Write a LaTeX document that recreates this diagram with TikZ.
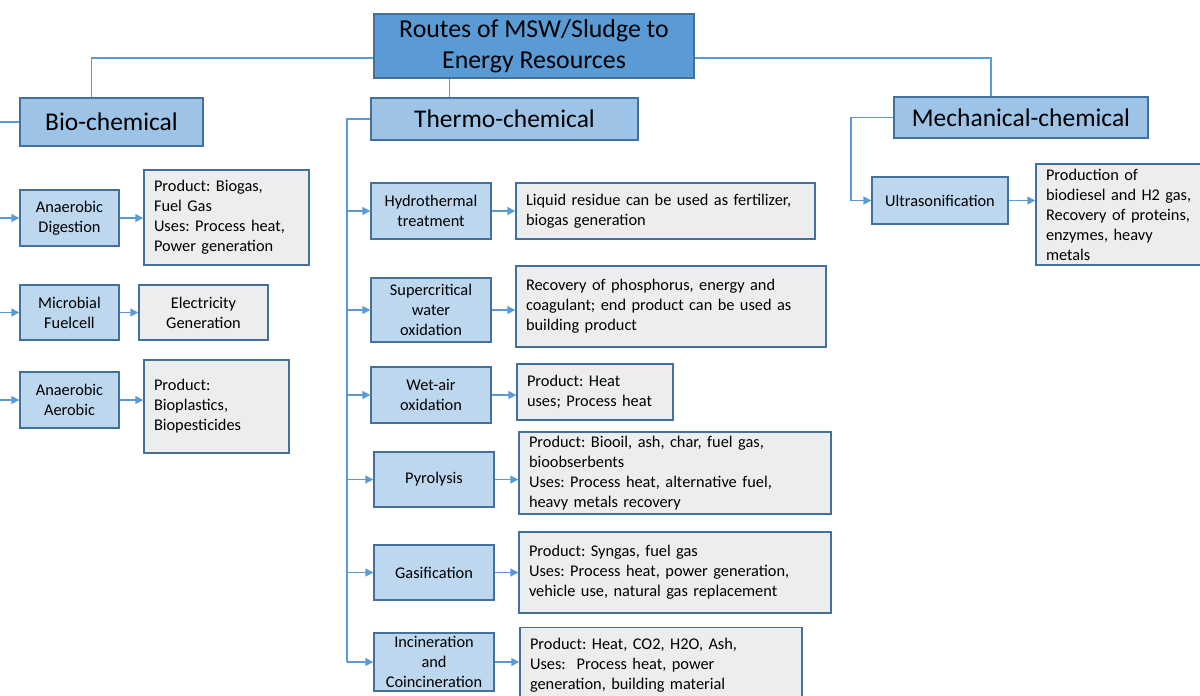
\documentclass[tikz,border=0pt]{standalone}
\usepackage{fontspec}
\setmainfont{Carlito}
\frenchspacing
\usetikzlibrary{arrows.meta}
\definecolor{topblue}{HTML}{5B9BD5}
\definecolor{catblue}{HTML}{9DC3E6}
\definecolor{subblue}{HTML}{BDD7EE}
\definecolor{edgeblue}{HTML}{41719C}
\definecolor{resgray}{HTML}{EDEDED}
\definecolor{linkblue}{HTML}{5B9BD5}
\tikzset{
  head/.style={draw=edgeblue, fill=topblue, line width=0.8pt, align=center,
    inner sep=0pt, font=\fontsize{14.7}{17.6}\selectfont},
  cat/.style={draw=edgeblue, fill=catblue, line width=0.8pt, align=center,
    inner sep=0pt, font=\fontsize{14.5}{17.6}\selectfont},
  route/.style={draw=edgeblue, fill=subblue, line width=0.8pt, align=center,
    inner sep=0pt, font=\fontsize{9.3}{11.4}\selectfont},
  result/.style={draw=edgeblue, fill=resgray, line width=0.8pt, align=left,
    inner sep=0pt, font=\fontsize{9.3}{11.4}\selectfont},
  link/.style={draw=linkblue, line width=0.9pt},
  arr/.style={link, -{Triangle[length=4.5pt,width=4.5pt]}},
}
\begin{document}
\begin{tikzpicture}
  \useasboundingbox (0,0) rectangle (24,-13.9);
  \clip (0,0) rectangle (24,-13.9);
  % main and groups
  \node[head, minimum width=6.4cm, minimum height=1.28cm] (title) at (10.68,-0.92)
    {Routes of MSW/Sludge to\\Energy Resources};
  \node[cat, minimum width=3.66cm, minimum height=0.96cm] (bio) at (2.23,-2.44) {Bio-chemical};
  \node[cat, minimum width=5.34cm, minimum height=0.84cm] (thermo) at (10.09,-2.38) {Thermo-chemical};
  \node[cat, minimum width=5.08cm, minimum height=0.82cm] (mech) at (20.42,-2.35) {Mechanical-chemical};

  % bio-chemical routes
  \node[route, minimum width=1.98cm, minimum height=1.12cm] (ad) at (1.39,-4.36) {Anaerobic\\Digestion};
  \node[result, text width=2.9cm, minimum width=3.3cm, minimum height=1.9cm] (adres) at (4.53,-4.35)
    {Product: Biogas,\\Fuel Gas\\Uses: Process heat,\\Power generation};
  \node[route, minimum width=1.98cm, minimum height=1.1cm] (mf) at (1.39,-6.25) {Microbial\\Fuelcell};
  \node[route, fill=resgray, minimum width=2.58cm, minimum height=1.1cm] (mfres) at (4.07,-6.25)
    {Electricity\\Generation};
  \node[route, minimum width=1.98cm, minimum height=1.12cm] (aa) at (1.39,-8.0) {Anaerobic\\Aerobic};
  \node[result, text width=2.5cm, minimum width=2.9cm, minimum height=1.86cm] (aares) at (4.33,-8.13)
    {Product:\\Bioplastics,\\Biopesticides};

  % thermo-chemical routes
  \node[route, minimum width=2.4cm, minimum height=1.12cm] (hydro) at (8.62,-4.22) {Hydrothermal\\treatment};
  \node[result, text width=5.58cm, minimum width=5.98cm, minimum height=1.12cm] (hydrores) at (13.31,-4.22)
    {Liquid residue can be used as fertilizer,\\biogas generation};
  \node[route, minimum width=2.4cm, minimum height=1.28cm] (scwo) at (8.62,-6.2) {Supercritical\\water\\oxidation};
  \node[result, text width=5.8cm, minimum width=6.2cm, minimum height=1.62cm] (scwores) at (13.42,-6.13)
    {Recovery of phosphorus, energy and\\coagulant; end product can be used as\\building product};
  \node[route, minimum width=2.4cm, minimum height=1.12cm] (wet) at (8.62,-7.9) {Wet-air\\oxidation};
  \node[result, text width=2.72cm, minimum width=3.12cm, minimum height=1.12cm] (wetres) at (11.9,-7.84)
    {Product: Heat\\uses; Process heat};
  \node[route, minimum width=2.4cm, minimum height=1.1cm] (pyro) at (8.68,-9.59) {Pyrolysis};
  \node[result, text width=5.84cm, minimum width=6.24cm, minimum height=1.64cm] (pyrores) at (13.5,-9.46)
    {Product: Biooil, ash, char, fuel gas,\\bioobserbents\\Uses: Process heat, alternative fuel,\\heavy metals recovery};
  \node[route, minimum width=2.4cm, minimum height=1.1cm] (gas) at (8.68,-11.45) {Gasification};
  \node[result, text width=5.84cm, minimum width=6.24cm, minimum height=1.62cm] (gasres) at (13.5,-11.45)
    {Product: Syngas, fuel gas\\Uses: Process heat, power generation,\\vehicle use, natural gas replacement};
  \node[route, minimum width=2.4cm, minimum height=1.16cm] (inc) at (8.68,-13.24) {Incineration\\and\\Coincineration};
  \node[result, text width=5.24cm, minimum width=5.64cm, minimum height=1.5cm] (incres) at (13.22,-13.3)
    {Product: Heat, CO2, H2O, Ash,\\Uses:\ \ Process heat, power\\generation, building material};

  % mechanical-chemical route
  \node[route, minimum width=2.72cm, minimum height=0.94cm] (ultra) at (18.8,-4.01) {Ultrasonification};
  \node[result, text width=3.2cm, minimum width=3.6cm, minimum height=2.02cm] (ultrares) at (22.52,-4.29)
    {Production of\\biodiesel and H2 gas,\\Recovery of proteins,\\enzymes, heavy\\metals};

  % links from the title
  \draw[link] ([yshift=-0.24cm]title.west) -| ([xshift=-0.4cm]bio.north);
  \draw[link] ([yshift=-0.24cm]title.east) -| ([xshift=-0.6cm]mech.north);
  \draw[link] ([xshift=-1.1cm]thermo.north) -- ([xshift=-1.1cm]thermo.north |- title.south);

  % trunks
  \coordinate (bioT) at (-0.3,-2.44);
  \coordinate (thT) at (6.94,-2.38);
  \coordinate (meT) at (17.02,-2.35);
  \draw[link] (bio.west) -- (bioT) -- (bioT |- aa.west);
  \foreach \n in {ad,mf,aa}
    \draw[arr] (bioT |- \n.west) -- (\n.west);
  \draw[link] (thermo.west) -- (thT) -- (thT |- inc.west);
  \foreach \n in {hydro,scwo,wet,pyro,gas,inc}
    \draw[arr] (thT |- \n.west) -- (\n.west);
  \draw[arr] (mech.west) -- (meT) |- (ultra.west);

  % route to result
  \foreach \a/\b in {ad/adres,mf/mfres,aa/aares,hydro/hydrores,scwo/scwores,wet/wetres,
                     pyro/pyrores,gas/gasres,inc/incres,ultra/ultrares}
    \draw[arr] (\a.east) -- (\a.east -| \b.west);
\end{tikzpicture}
\end{document}
